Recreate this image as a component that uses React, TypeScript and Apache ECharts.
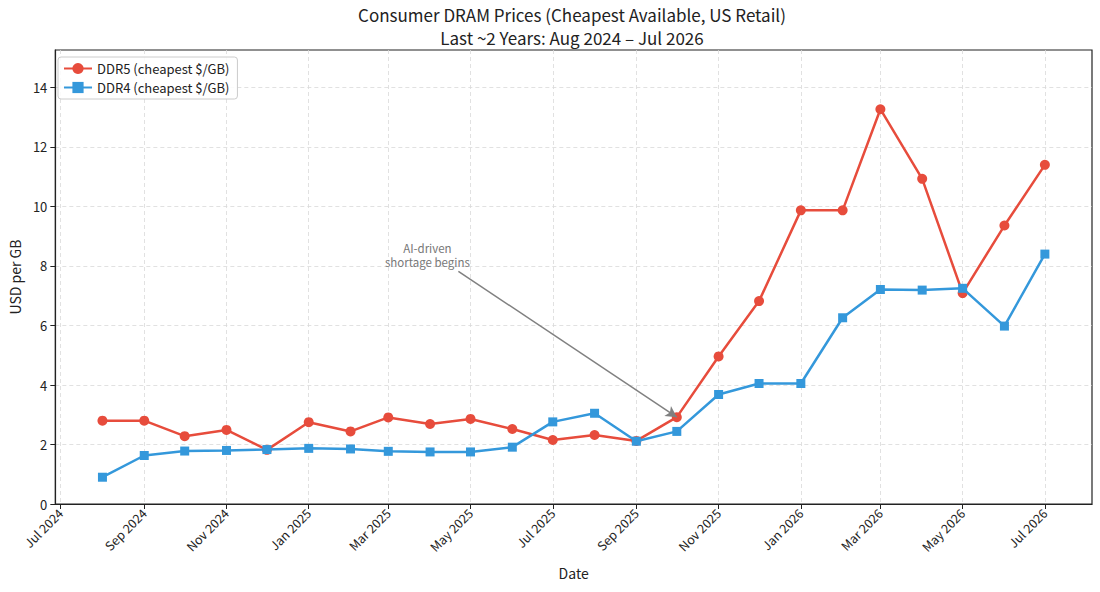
import { useEffect, useRef } from 'react';
import * as echarts from 'echarts';

// monthly observations, first of each month
const months = [
  '2024-08', '2024-09', '2024-10', '2024-11', '2024-12',
  '2025-01', '2025-02', '2025-03', '2025-04', '2025-05', '2025-06',
  '2025-07', '2025-08', '2025-09', '2025-10', '2025-11', '2025-12',
  '2026-01', '2026-02', '2026-03', '2026-04', '2026-05', '2026-06', '2026-07',
];

const ddr5 = [
  2.8, 2.8, 2.28, 2.49, 1.82,
  2.75, 2.44, 2.91, 2.69, 2.86, 2.52,
  2.15, 2.32, 2.12, 2.92, 4.96, 6.82,
  9.87, 9.87, 13.27, 10.93, 7.09, 9.36, 11.4,
];

const ddr4 = [
  0.9, 1.63, 1.78, 1.8, 1.83,
  1.87, 1.85, 1.77, 1.75, 1.75, 1.91,
  2.76, 3.05, 2.11, 2.44, 3.68, 4.05,
  4.05, 6.26, 7.21, 7.19, 7.25, 5.98, 8.4,
];

const xTickMonths = [
  '2024-07', '2024-09', '2024-11', '2025-01', '2025-03', '2025-05', '2025-07',
  '2025-09', '2025-11', '2026-01', '2026-03', '2026-05', '2026-07',
];
const xTickLabels = [
  'Jul 2024', 'Sep 2024', 'Nov 2024', 'Jan 2025', 'Mar 2025', 'May 2025', 'Jul 2025',
  'Sep 2025', 'Nov 2025', 'Jan 2026', 'Mar 2026', 'May 2026', 'Jul 2026',
];
const yTicks = [0, 2, 4, 6, 8, 10, 12, 14];

// annotation anchors in data space (date, USD/GB)
const annotationLines = ['AI-driven', 'shortage begins'];
const annotationLineAt: [string, number][] = [
  ['2025-03-30', 8.6],
  ['2025-03-30', 8.13],
];
const annotationArrowFrom: [string, number] = ['2025-04-22', 7.82];
const annotationTarget = '2025-10';

const FONT = '"Noto Sans CJK SC", "Noto Sans", sans-serif';
const RED = '#e74c3c';
const BLUE = '#3498db';

const toTs = (s: string) => {
  const [y, m, d] = s.split('-').map(Number);
  return Date.UTC(y, m - 1, d ?? 1);
};

export default function App() {
  const chartRef = useRef<HTMLDivElement | null>(null);

  useEffect(() => {
    if (!chartRef.current) return;
    const chart = echarts.init(chartRef.current, undefined, { renderer: 'svg' });

    const xs = months.map(toTs);
    const pad = (xs[xs.length - 1] - xs[0]) * 0.05;
    const tickTs = xTickMonths.map(toTs);
    const yMax = Math.max(...ddr5, ...ddr4) * 1.15;
    const targetIdx = months.indexOf(annotationTarget);
    const titleStyle = { fontFamily: FONT, fontSize: 17, fontWeight: 'normal', color: '#222' };

    chart.setOption({
      animation: false,
      textStyle: { fontFamily: FONT },
      title: {
        text: 'Consumer DRAM Prices (Cheapest Available, US Retail)',
        subtext: 'Last ~2 Years: Aug 2024 – Jul 2026',
        left: 572,
        top: 6,
        textAlign: 'center',
        itemGap: 6,
        padding: 0,
        textStyle: titleStyle,
        subtextStyle: titleStyle,
      },
      legend: {
        orient: 'vertical',
        left: 58,
        top: 57,
        padding: [5, 8, 5, 5],
        itemGap: 6,
        itemWidth: 28,
        itemHeight: 14,
        borderColor: '#cccccc',
        borderWidth: 1,
        borderRadius: 3,
        backgroundColor: 'rgba(255,255,255,0.85)',
        textStyle: { fontFamily: FONT, fontSize: 13, color: '#222' },
        data: ['DDR5 (cheapest $/GB)', 'DDR4 (cheapest $/GB)'],
      },
      grid: {
        left: 53,
        right: 8,
        top: 50,
        bottom: 88,
        show: true,
        borderColor: '#222',
        borderWidth: 1.2,
        containLabel: false,
      },
      xAxis: {
        type: 'value',
        min: xs[0] - pad,
        max: xs[xs.length - 1] + pad,
        name: 'Date',
        nameLocation: 'middle',
        nameGap: 62,
        nameTextStyle: { fontFamily: FONT, fontSize: 14, color: '#222' },
        axisLine: { show: true, lineStyle: { color: '#222', width: 1.2 } },
        axisTick: { show: true, length: 5, customValues: tickTs, lineStyle: { color: '#222' } },
        axisLabel: {
          customValues: tickTs,
          rotate: 45,
          margin: 7,
          fontSize: 12.5,
          color: '#222',
          fontFamily: FONT,
          formatter: (v: number) => {
            const i = tickTs.indexOf(v);
            return i >= 0 ? xTickLabels[i] : '';
          },
        },
        splitLine: { show: true, lineStyle: { color: '#d9d9d9', type: [4, 3], width: 0.8 } },
      },
      yAxis: {
        type: 'value',
        min: 0,
        max: yMax,
        name: 'USD per GB',
        nameLocation: 'middle',
        nameGap: 30,
        nameTextStyle: { fontFamily: FONT, fontSize: 14, color: '#222' },
        axisLine: { show: true, lineStyle: { color: '#222', width: 1.2 } },
        axisTick: { show: true, length: 5, customValues: yTicks, lineStyle: { color: '#222' } },
        axisLabel: { customValues: yTicks, margin: 8, fontSize: 13, color: '#222', fontFamily: FONT },
        splitLine: { show: true, lineStyle: { color: '#d9d9d9', type: [4, 3], width: 0.8 } },
      },
      series: [
        {
          name: 'DDR5 (cheapest $/GB)',
          type: 'line',
          data: xs.map((x, i) => [x, ddr5[i]]),
          symbol: 'circle',
          symbolSize: 10,
          lineStyle: { color: RED, width: 2.5 },
          itemStyle: { color: RED },
          z: 3,
          markLine: {
            silent: true,
            symbol: ['none', 'arrow'],
            symbolSize: [9, 11],
            label: { show: false },
            lineStyle: { color: '#808080', width: 1.5, type: 'solid' },
            data: [
              [
                { coord: [toTs(annotationArrowFrom[0]), annotationArrowFrom[1]] },
                { coord: [xs[targetIdx], ddr5[targetIdx]] },
              ],
            ],
          },
          markPoint: {
            silent: true,
            symbol: 'circle',
            symbolSize: 0,
            data: annotationLines.map((text, i) => ({
              coord: [toTs(annotationLineAt[i][0]), annotationLineAt[i][1]],
              label: { formatter: text },
            })),
            label: {
              show: true,
              position: 'inside',
              fontFamily: FONT,
              fontSize: 11.5,
              color: '#777',
              align: 'center',
            },
          },
        },
        {
          name: 'DDR4 (cheapest $/GB)',
          type: 'line',
          data: xs.map((x, i) => [x, ddr4[i]]),
          symbol: 'rect',
          symbolSize: 9,
          lineStyle: { color: BLUE, width: 2.5 },
          itemStyle: { color: BLUE },
          z: 4,
        },
      ],
    });

    return () => {
      chart.dispose();
    };
  }, []);

  return (
    <div
      ref={chartRef}
      style={{ position: 'fixed', left: 0, top: 0, width: 1100, height: 592, background: '#fff' }}
    />
  );
}
